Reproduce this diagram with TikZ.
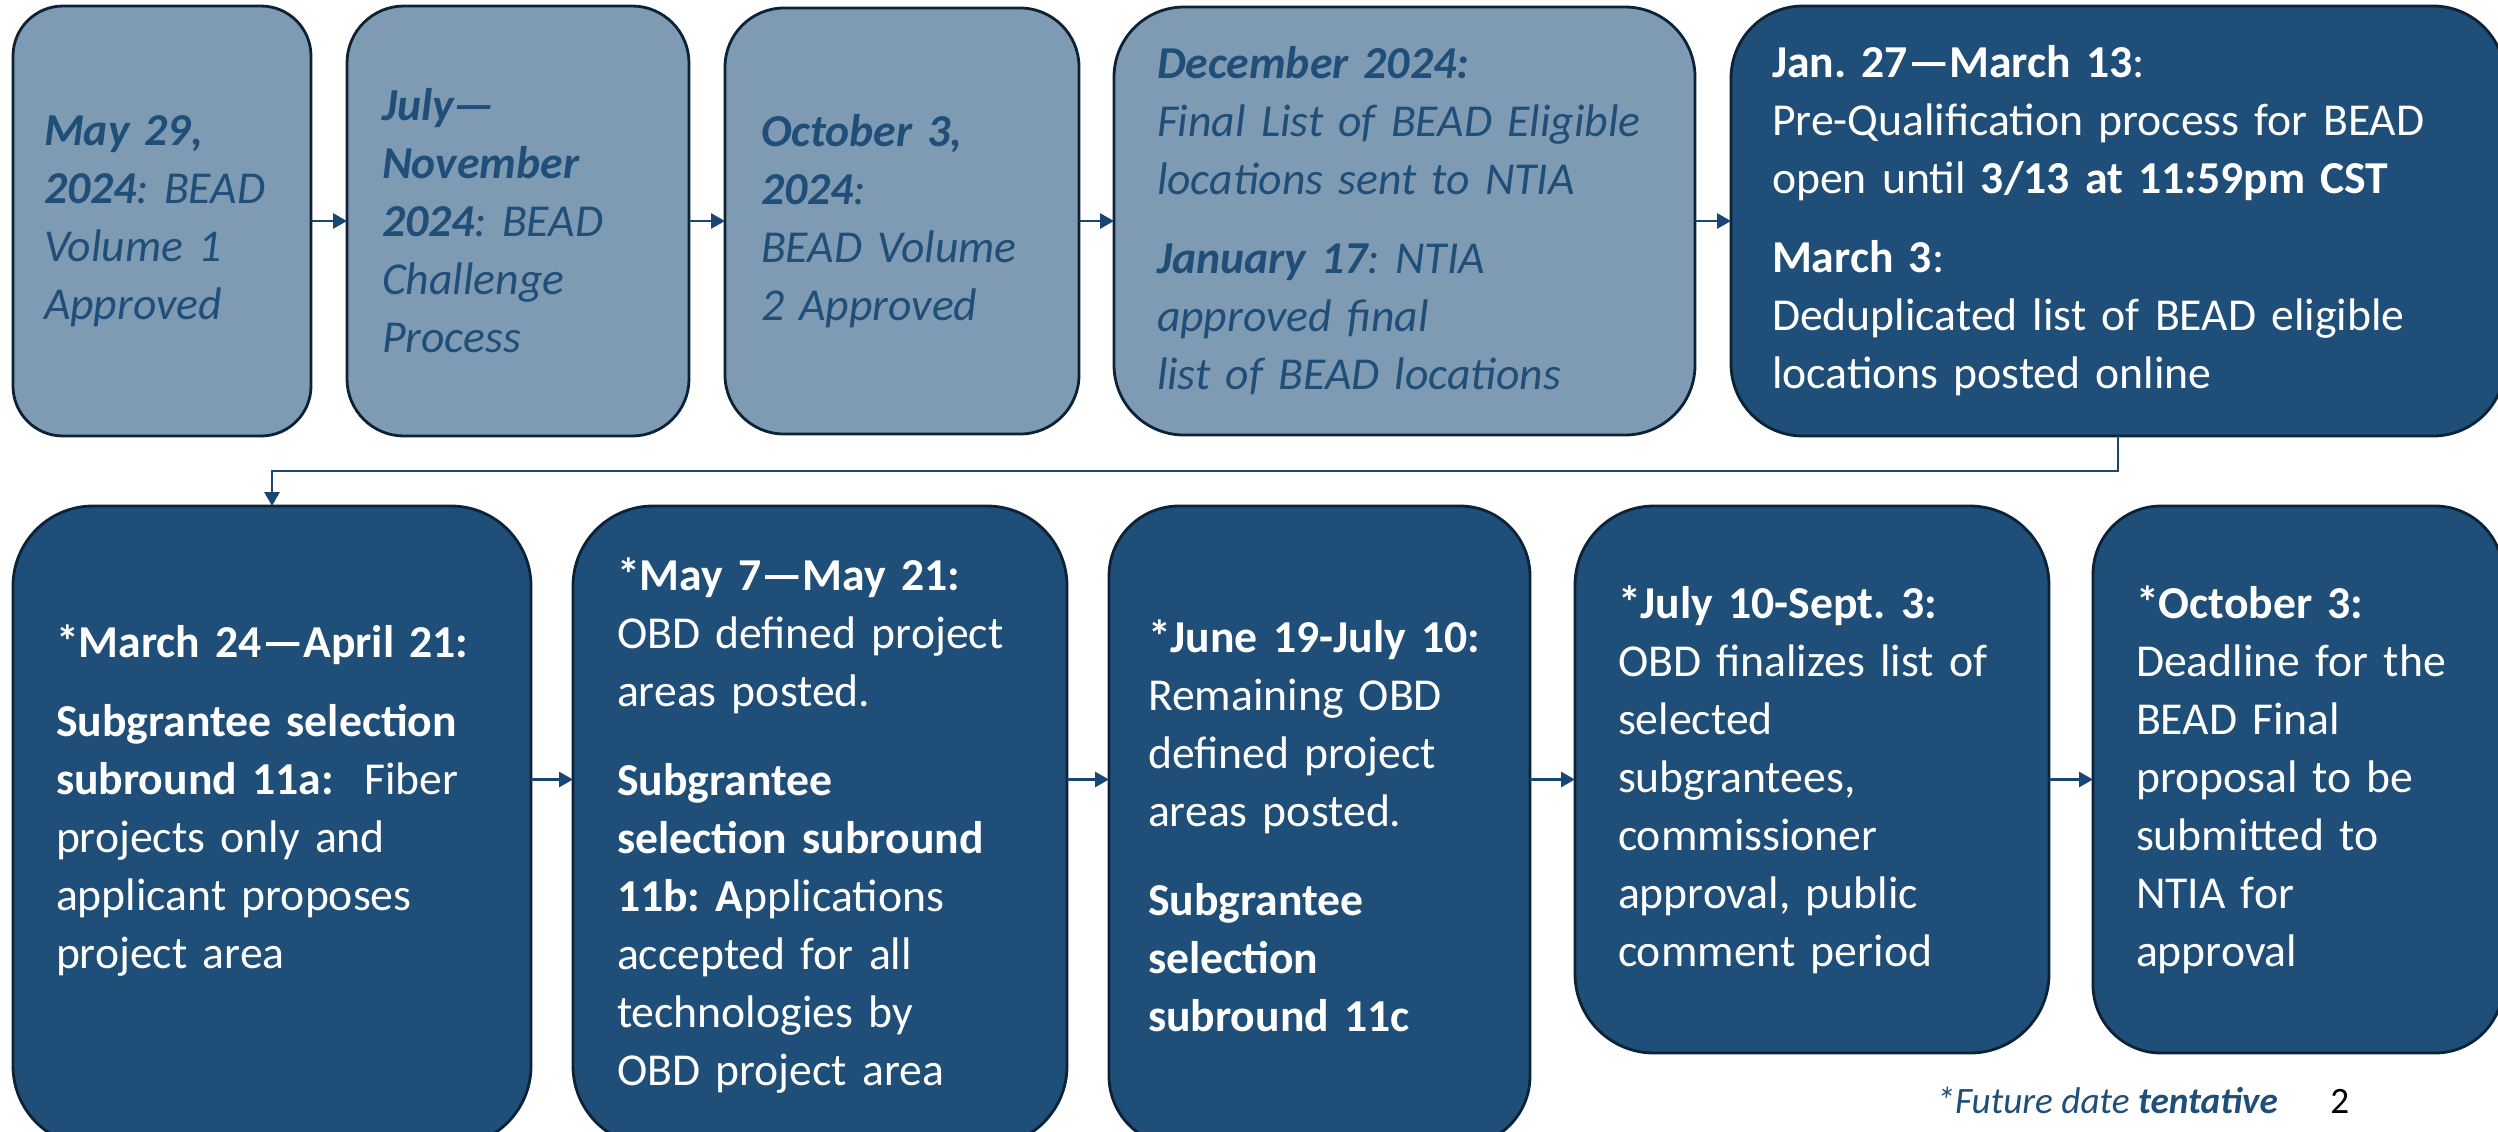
\documentclass[tikz,border=0pt]{standalone}
\usepackage{fontspec}
\setmainfont{Carlito}
\usetikzlibrary{positioning,arrows.meta}
\definecolor{paleblue}{HTML}{7F9BB3}
\definecolor{navy}{HTML}{1F4E79}
\definecolor{edgeblue}{HTML}{0C2236}
\definecolor{linkblue}{HTML}{1A4673}
\frenchspacing

\begin{document}
\begin{tikzpicture}[
  palebox/.style={rectangle, draw=edgeblue, line width=0.8pt, fill=paleblue, outer sep=0pt,
    text=navy, align=left, inner ysep=0pt, font=\fontsize{13}{16.5}\selectfont\itshape},
  darkbox/.style={rectangle, draw=edgeblue, line width=0.8pt, fill=navy, outer sep=0pt,
    text=white, align=left, inner ysep=0pt, font=\fontsize{13}{16.5}\selectfont},
  link/.style={-{Triangle[length=0.14cm,width=0.15cm]}, draw=linkblue, line width=0.8pt},
]
\useasboundingbox (0,0) rectangle (24.98,-11.31);
\clip (0,0) rectangle (24.98,-11.31);

% top row: 2024 milestones
\node[
  palebox,
  anchor=north west,
  rounded corners=0.5cm,
  inner xsep=0.31cm,
  text width=2.36cm,
  minimum height=4.30cm,
  ] (b1) at (0.13,-0.06) {\textbf{May 29,}\\ \textbf{2024}: BEAD\\ Volume 1\\ Approved};

\node[
  palebox,
  right=0.36cm of b1,
  rounded corners=0.57cm,
  inner xsep=0.35cm,
  text width=2.72cm,
  minimum height=4.30cm,
  ] (b2) {\textbf{July—}\\ \textbf{November}\\ \textbf{2024}: BEAD\\ Challenge\\ Process};

\node[
  palebox,
  right=0.36cm of b2,
  rounded corners=0.59cm,
  inner xsep=0.36cm,
  text width=2.82cm,
  minimum height=4.26cm,
  ] (b3) {\textbf{October 3,}\\ \textbf{2024}:\\ BEAD Volume\\ 2 Approved};

\node[
  palebox,
  right=0.35cm of b3,
  rounded corners=0.7cm,
  inner xsep=0.43cm,
  text width=4.95cm,
  minimum height=4.28cm,
  ] (b4) {\textbf{December 2024:}\\ Final List of BEAD Eligible\\ locations sent to NTIA\\[0.21cm]
  \textbf{January 17}: NTIA\\ approved final\\ list of BEAD locations};

\node[
  darkbox,
  right=0.36cm of b4,
  rounded corners=0.72cm,
  inner xsep=0.41cm,
  text width=6.92cm,
  minimum height=4.30cm,
  ] (b5) {\textbf{Jan. 27—March 13}:\\ Pre-Qualification process for BEAD\\ open until \textbf{3/13 at 11:59pm CST}\\[0.21cm]
  \textbf{March 3}:\\ Deduplicated list of BEAD eligible\\ locations posted online};

% bottom row: 2025 steps
\node[
  darkbox,
  anchor=north west,
  rounded corners=0.8cm,
  inner xsep=0.43cm,
  text width=4.32cm,
  minimum height=6.40cm,
  ] (b6) at (0.13,-5.06) {\textbf{*March 24—April 21:}\\[0.21cm] \textbf{Subgrantee selection}\\
  \textbf{subround 11a:}\ \ Fiber\\ projects only and\\ applicant proposes\\ project area\\ \mbox{}};

\node[
  darkbox,
  right=0.42cm of b6.north east,
  anchor=north west,
  rounded corners=0.8cm,
  inner xsep=0.44cm,
  text width=4.06cm,
  minimum height=6.40cm,
  ] (b7) {\textbf{*May 7—May 21:}\\ OBD defined project\\ areas posted.\\[0.31cm] \textbf{Subgrantee}\\
  \textbf{selection subround}\\ \textbf{11b: A}pplications\\ accepted for all\\ technologies by\\ OBD project area};

\node[
  darkbox,
  right=0.42cm of b7.north east,
  anchor=north west,
  rounded corners=0.7cm,
  inner xsep=0.39cm,
  text width=3.43cm,
  minimum height=6.40cm,
  ] (b8) {\textbf{*June 19-July 10:}\\ Remaining OBD\\ defined project\\ areas posted.\\[0.31cm]
  \textbf{Subgrantee}\\ \textbf{selection}\\ \textbf{subround 11c}};

\node[
  darkbox,
  right=0.45cm of b8.north east,
  anchor=north west,
  rounded corners=0.79cm,
  inner xsep=0.43cm,
  text width=3.88cm,
  minimum height=5.47cm,
  ] (b9) {\textbf{*July 10-Sept. 3:}\\ OBD finalizes list of\\ selected\\ subgrantees,\\ commissioner\\
  approval, public\\ comment period};

\node[
  darkbox,
  right=0.44cm of b9.north east,
  anchor=north west,
  rounded corners=0.68cm,
  inner xsep=0.43cm,
  text width=3.24cm,
  minimum height=5.47cm,
  ] (b10) {\textbf{*October 3:}\\ Deadline for the\\ BEAD Final\\ proposal to be\\ submitted to\\ NTIA for\\ approval};

\node[anchor=base west, text=navy, font=\fontsize{10.6}{12}\selectfont\itshape]
  (note) at (19.24,-11.13) {*Future date \textbf{tentative}};
\node[anchor=base west, font=\fontsize{10.6}{12}\selectfont] (page) at (23.18,-11.13) {2};

\draw[link] (b1) -- (b2);
\draw[link] (b2) -- (b3);
\draw[link] (b3) -- (b4);
\draw[link] (b4) -- (b5);
\draw[link] (b5.south) -- ++(0,-0.35) -| (b6.north);
\draw[link] (b6.east |- b9.west) -- (b7.west |- b9.west);
\draw[link] (b7.east |- b9.west) -- (b8.west |- b9.west);
\draw[link] (b8.east |- b9.west) -- (b9.west);
\draw[link] (b9) -- (b10);
\end{tikzpicture}
\end{document}
